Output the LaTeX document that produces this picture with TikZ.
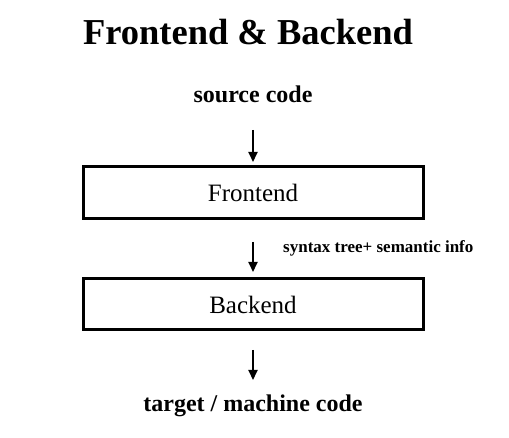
\documentclass[tikz,border=0pt]{standalone}
\usepackage{fontspec}
\setmainfont{Liberation Serif}
\usetikzlibrary{arrows.meta}
\begin{document}
\begin{tikzpicture}[x=1pt,y=-1pt,
  stagebox/.style={draw=black,line width=3pt,minimum width=340pt,minimum height=52pt,inner sep=0pt,outer sep=0pt,font=\fontsize{25}{28}\selectfont},
  boldlabel/.style={inner sep=0pt,outer sep=0pt,anchor=base,font=\bfseries\fontsize{24}{28}\selectfont},
  flow/.style={line width=2pt,-{Triangle[length=10pt,width=9pt]}}]
\useasboundingbox (0,0) rectangle (509,438);
\node[inner sep=0pt,anchor=base,font=\bfseries\fontsize{36.5}{40}\selectfont] (title) at (248,45) {Frontend \& Backend};
\node[boldlabel,text depth=0pt] (src) at (253,103) {source code};
\node[stagebox] (fe) at (253,193) {Frontend};
\node[stagebox,minimum height=51pt] (be) at (253,304.5) {Backend};
\node[boldlabel,text height=19pt] (tgt) at (253,412) {target / machine code};
\node[inner sep=0pt,anchor=base west,font=\bfseries\fontsize{17}{20}\selectfont] (info) at (283,253) {syntax tree+ semantic info};
\draw[flow,shorten <=27pt,shorten >=5pt] (src.south) -- (fe.north);
\draw[flow,shorten <=23pt,shorten >=7pt] (fe.south) -- (be.north);
\draw[flow,shorten <=20pt,shorten >=13pt] (be.south) -- (tgt.north);
\end{tikzpicture}
\end{document}
